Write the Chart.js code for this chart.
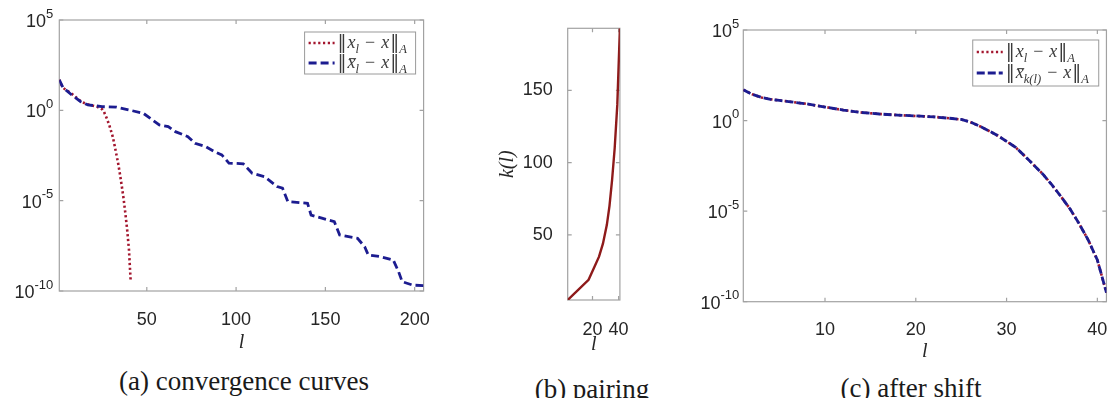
<!DOCTYPE html>
<html>
<head>
<meta charset="utf-8">
<script src="https://cdn.jsdelivr.net/npm/chart.js@4/dist/chart.umd.min.js"></script>
<style>
  body { margin: 0; background: #fff; width: 1117px; height: 398px; position: relative; overflow: hidden; }
  canvas { position: absolute; top: 0; }
  .cap { position: absolute; font-family: "Liberation Serif", serif; font-size: 27px; color: #1a1a1a; line-height: 30px;
         transform: translate(-50%, -50%); white-space: nowrap; }
</style>
</head>
<body>
<canvas id="convChart" width="440" height="355" style="left:0"></canvas>
<canvas id="pairChart" width="160" height="357" style="left:480px"></canvas>
<canvas id="shiftChart" width="427" height="364" style="left:690px"></canvas>
<div class="cap" style="left:244px; top:381px">(a) convergence curves</div>
<div class="cap" style="left:592px; top:389px">(b) pairing</div>
<div class="cap" style="left:911px; top:388px">(c) after shift</div>
<script>
// ||x_l - x||_A
const exactIter = [1, 2, 3, 4, 5, 6, 8, 10, 12, 14, 16, 18, 20, 22, 24, 25, 26, 27, 28, 29, 30, 31, 32, 33, 34, 35, 36, 37, 38, 39, 40, 41];
const exactErr = [50, 28, 19, 15, 12.9, 11.2, 8.3, 5.6, 3.8, 2.8, 2.3, 2.0, 1.8, 1.6, 1.3, 1.15, 0.83, 0.5, 0.28, 0.15,
  0.071, 0.033, 0.011, 3.5e-3, 1.1e-3, 2.8e-4, 6.3e-5, 1.3e-5, 2.0e-6, 2.5e-7, 2.0e-8, 3.2e-10];

// ||xbar_l - x||_A
const avgIter = [1, 3, 8, 13, 17, 25, 33, 40, 48, 52, 57, 62, 66, 73, 77, 83, 88, 92, 96, 104,
  109, 116, 123, 126, 129, 140, 142, 148, 155, 158, 168, 172, 174, 181, 188, 191, 193, 199, 205];
const avgErr = [48, 18.6, 7.1, 3.0, 2.0, 1.6, 1.5, 1.05, 0.69, 0.36, 0.155, 0.126, 0.066, 0.035, 0.015, 9.8e-3, 5.1e-3, 3.4e-3, 1.2e-3, 1.1e-3,
  3.3e-4, 2.1e-4, 6.0e-5, 4.9e-5, 8.9e-6, 7.2e-6, 1.6e-6, 1.07e-6, 6.9e-7, 1.26e-7, 8.3e-8, 2.8e-8, 1.0e-8, 7.9e-9, 5.2e-9, 1.17e-9, 3.3e-10, 2.1e-10, 2.0e-10];

// pairing k(l)
const pairIter = [1, 17, 21, 25, 28, 31, 33, 35, 37, 39, 41];
const pairK = [5, 19, 27, 35, 44, 57, 70, 88, 110, 140, 193];

// ||xbar_k(l) - x||_A
const shiftIter = [1, 2, 3, 4, 5, 6, 8, 10, 12, 14, 16, 18, 20, 22, 24, 25, 26, 27, 28, 29, 30, 31, 32, 33, 34, 35, 36, 37, 38, 39, 40, 41];
const shiftErr = [50, 28, 19, 15, 12.9, 11.2, 8.3, 5.6, 3.8, 2.8, 2.3, 2.0, 1.8, 1.6, 1.3, 1.15, 0.83, 0.5, 0.28, 0.15,
  0.071, 0.033, 0.011, 3.5e-3, 1.1e-3, 2.8e-4, 6.3e-5, 1.3e-5, 2.0e-6, 2.5e-7, 2.0e-8, 3.2e-10];

// ticks
const logTicks = [1e-10, 1e-5, 1, 1e5];
const logTickExp = ['-10', '-5', '0', '5'];
const convXTicks = [50, 100, 150, 200];
const pairXTicks = [20, 40];
const pairYTicks = [50, 100, 150];
const shiftXTicks = [10, 20, 30, 40];

const RED = '#a3162e';
const BLUE = '#1c1c90';
const BOX = '#a2a2a2';
const TICK_FONT = { family: '"Liberation Sans", Arial, sans-serif', size: 18 };
const TITLE_FONT = { family: '"Liberation Serif", serif', size: 20, style: 'italic', lineHeight: 1.2 };

const pts = (xs, ys) => xs.map((x, i) => ({ x, y: ys[i] }));
const fixTicks = vals => scale => { scale.ticks = vals.map(v => ({ value: v })); };

// axes box with inward tick marks on all four sides
const boxPlugin = {
  id: 'axesBox',
  beforeDatasetsDraw(chart) {
    const { ctx, chartArea: a, scales } = chart;
    ctx.save();
    ctx.strokeStyle = BOX;
    ctx.lineWidth = 1.2;
    ctx.strokeRect(a.left, a.top, a.right - a.left, a.bottom - a.top);
    const len = 4;
    ctx.beginPath();
    scales.x.ticks.forEach(t => {
      const px = scales.x.getPixelForValue(t.value);
      ctx.moveTo(px, a.bottom); ctx.lineTo(px, a.bottom - len);
      ctx.moveTo(px, a.top); ctx.lineTo(px, a.top + len);
    });
    scales.y.ticks.forEach(t => {
      const py = scales.y.getPixelForValue(t.value);
      ctx.moveTo(a.left, py); ctx.lineTo(a.left + len, py);
      ctx.moveTo(a.right, py); ctx.lineTo(a.right - len, py);
    });
    ctx.stroke();
    ctx.restore();
  }
};

// "10^n" labels for the log axes
const powerLabels = {
  id: 'powerLabels',
  afterDraw(chart, args, opts) {
    if (!opts || !opts.gap) return;
    const { ctx, scales } = chart;
    const y = scales.y;
    ctx.save();
    ctx.fillStyle = '#262626';
    ctx.textBaseline = 'middle';
    ctx.textAlign = 'left';
    logTicks.forEach((v, i) => {
      const py = y.getPixelForValue(v);
      ctx.font = '13px "Liberation Sans", Arial, sans-serif';
      const ew = ctx.measureText(logTickExp[i]).width;
      ctx.font = '18px "Liberation Sans", Arial, sans-serif';
      const bw = ctx.measureText('10').width;
      const x0 = chart.chartArea.left - opts.gap - ew - bw;
      ctx.fillText('10', x0, py + 2);
      ctx.font = '13px "Liberation Sans", Arial, sans-serif';
      ctx.fillText(logTickExp[i], x0 + bw, py - 6);
    });
    ctx.restore();
  }
};

function drawMath(ctx, x, y, parts, size) {
  parts.forEach(p => {
    x += p.pre || 0;
    const fs = p.sub ? size * 0.7 : size;
    const fam = p.norm ? '"DejaVu Serif", serif' : '"Liberation Serif", "DejaVu Serif", serif';
    ctx.font = (p.it ? 'italic ' : '') + fs + 'px ' + fam;
    const dy = p.sub ? size * 0.3 : 0;
    ctx.fillText(p.t, x, y + dy);
    const w = ctx.measureText(p.t).width;
    if (p.bar) {
      ctx.beginPath();
      ctx.moveTo(x + 1.5, y - size * 0.52);
      ctx.lineTo(x + w + 0.5, y - size * 0.52);
      ctx.stroke();
    }
    x += w + (p.post || 0);
  });
}

// legend with math labels, boxed in the upper right corner
const mathLegend = {
  id: 'mathLegend',
  afterDraw(chart, args, opts) {
    if (!opts || !opts.rows) return;
    const { ctx, chartArea: a } = chart;
    const bx = a.right - opts.right - opts.width;
    const by = a.top + opts.top;
    ctx.save();
    ctx.fillStyle = '#fff';
    ctx.fillRect(bx, by, opts.width, opts.height);
    ctx.strokeStyle = '#9a9a9a';
    ctx.lineWidth = 1;
    ctx.strokeRect(bx, by, opts.width, opts.height);
    opts.rows.forEach((row, i) => {
      const ds = chart.data.datasets[row.dataset];
      const cy = by + opts.rowY[i];
      ctx.strokeStyle = ds.borderColor;
      ctx.lineWidth = ds.borderWidth;
      ctx.setLineDash(ds.borderDash || []);
      ctx.beginPath();
      ctx.moveTo(bx + 4, cy);
      ctx.lineTo(bx + 30, cy);
      ctx.stroke();
      ctx.setLineDash([]);
      ctx.fillStyle = '#3a3a3a';
      ctx.strokeStyle = '#3a3a3a';
      ctx.lineWidth = 1;
      ctx.textBaseline = 'alphabetic';
      drawMath(ctx, bx + 33, cy + 5, row.parts, 18);
    });
    ctx.restore();
  }
};

const normPart = (bar, sub) => [
  { t: '‖', norm: 1, post: 1 }, { t: 'x', it: 1, bar }, ...sub, { t: '−', pre: 6, post: 6 },
  { t: 'x', it: 1, post: 1 }, { t: '‖', norm: 1 }, { t: 'A', it: 1, sub: 1 }
];
const subL = [{ t: 'l', it: 1, sub: 1 }];
const subKL = [{ t: 'k(l)', it: 1, sub: 1 }];

function xScale(min, max, ticks, pad, height) {
  return {
    type: 'linear', min, max,
    afterBuildTicks: fixTicks(ticks),
    afterFit: s => { s.height = height; },
    grid: { display: false }, border: { display: false },
    ticks: { font: TICK_FONT, color: '#262626', padding: pad, maxRotation: 0 },
    title: { display: true, text: 'l', font: TITLE_FONT, color: '#262626', padding: { top: 0, bottom: 0 } }
  };
}

function logY(width) {
  return {
    type: 'logarithmic', min: 1e-10, max: 1e5,
    afterBuildTicks: fixTicks(logTicks),
    afterFit: s => { s.width = width; },
    grid: { display: false }, border: { display: false },
    ticks: { display: false }
  };
}

const common = {
  responsive: false,
  animation: false,
  devicePixelRatio: 1,
  elements: { point: { radius: 0 }, line: { tension: 0 } },
};

new Chart(document.getElementById('convChart'), {
  type: 'line',
  data: {
    datasets: [
      { data: pts(exactIter, exactErr), borderColor: RED, borderWidth: 2.6, borderDash: [2.2, 2.6], order: 1 },
      { data: pts(avgIter, avgErr), borderColor: BLUE, borderWidth: 2.8, borderDash: [8, 4], order: 0 }
    ]
  },
  options: {
    ...common,
    layout: { padding: { top: 20, right: 13, left: 0, bottom: 0 } },
    scales: { x: xScale(1, 205, convXTicks, 10, 64), y: logY(59.3) },
    plugins: {
      legend: { display: false }, tooltip: { enabled: false },
      powerLabels: { gap: 6 },
      mathLegend: {
        right: 8, top: 12, width: 111, height: 42, rowY: [11, 31],
        rows: [{ dataset: 0, parts: normPart(false, subL) }, { dataset: 1, parts: normPart(true, subL) }]
      }
    }
  },
  plugins: [boxPlugin, powerLabels, mathLegend]
});

new Chart(document.getElementById('pairChart'), {
  type: 'line',
  data: {
    datasets: [
      { data: pts(pairIter, pairK), borderColor: '#8e1a1a', borderWidth: 2.4 }
    ]
  },
  options: {
    ...common,
    layout: { padding: { top: 28.3, right: 15.7, left: 0, bottom: 0 } },
    scales: {
      x: xScale(1, 41, pairXTicks, 11, 57),
      y: {
        type: 'linear', min: pairK[0], max: pairK[pairK.length - 1],
        afterBuildTicks: fixTicks(pairYTicks),
        afterFit: s => { s.width = 87.7; },
        grid: { display: false }, border: { display: false },
        ticks: { font: TICK_FONT, color: '#262626', padding: 7 },
        title: { display: true, text: 'k(l)', font: TITLE_FONT, color: '#262626', padding: { top: 16, bottom: 0 } }
      }
    },
    plugins: { legend: { display: false }, tooltip: { enabled: false } }
  },
  plugins: [boxPlugin]
});

new Chart(document.getElementById('shiftChart'), {
  type: 'line',
  data: {
    datasets: [
      { data: pts(exactIter, exactErr), borderColor: RED, borderWidth: 2.6, borderDash: [2.2, 2.6], order: 1 },
      { data: pts(shiftIter, shiftErr), borderColor: BLUE, borderWidth: 2.8, borderDash: [8, 3], order: 0 }
    ]
  },
  options: {
    ...common,
    layout: { padding: { top: 30, right: 5.3, left: 0, bottom: 0 } },
    scales: { x: xScale(1, 41, shiftXTicks, 9.5, 62.3), y: logY(53.3) },
    plugins: {
      legend: { display: false }, tooltip: { enabled: false },
      powerLabels: { gap: 4 },
      mathLegend: {
        right: 7.7, top: 10, width: 126, height: 46, rowY: [12, 33],
        rows: [{ dataset: 0, parts: normPart(false, subL) }, { dataset: 1, parts: normPart(true, subKL) }]
      }
    }
  },
  plugins: [boxPlugin, powerLabels, mathLegend]
});
</script>
</body>
</html>
